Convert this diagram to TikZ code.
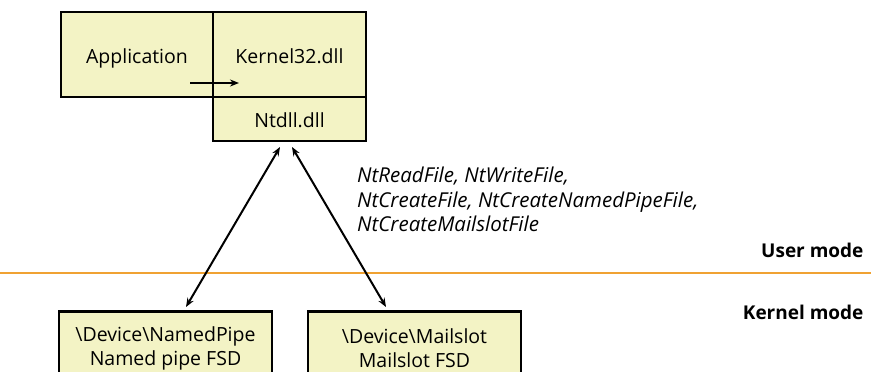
\documentclass[tikz,border=0pt]{standalone}
\usepackage{fontspec}
\setmainfont{Open Sans}
\usetikzlibrary{arrows.meta}
\definecolor{boxfill}{HTML}{F3F3C5}
\definecolor{modeline}{HTML}{F0A232}
\begin{document}
\begin{tikzpicture}[x=1pt,y=-1pt,>={Stealth[length=9pt,width=7pt]},
  box/.style={draw,line width=2.2pt,fill=boxfill,inner sep=0pt,font=\fontsize{19.5}{24}\selectfont,align=center},
  link/.style={<->,line width=2pt}]
\useasboundingbox (0,0) rectangle (871,372);
\clip (0,0) rectangle (871,372);
% user mode side
\node[box,minimum width=152pt,minimum height=85pt,text height=22pt,text depth=4pt] (app) at (137,54.5) {Application};
\node[box,minimum width=153pt,minimum height=85pt,text height=22pt,text depth=4pt] (kernel) at (289.5,54.5) {Kernel32.dll};
\node[box,minimum width=153pt,minimum height=44pt,text height=20pt,text depth=4pt] (ntdll) at (289.5,119) {Ntdll.dll};
\coordinate (callfrom) at (190,83);
\coordinate (callto) at (239,83);
\draw[->,line width=2pt] (callfrom)--(callto);
% boundary between the modes
\coordinate (lineleft) at (0,273);
\coordinate (lineright) at (871,273);
\draw[modeline,line width=2.4pt] (lineleft)--(lineright);
\node[anchor=east,font=\fontsize{19}{22}\selectfont\bfseries] (user) at (867,250) {User mode};
\node[anchor=east,font=\fontsize{19}{22}\selectfont\bfseries] (kmode) at (867,312) {Kernel mode};
\node[anchor=north west,align=left,inner sep=0pt,font=\fontsize{20.5}{24.5}\selectfont\itshape] (calls) at (357,167)
  {NtReadFile, NtWriteFile,\\NtCreateFile, NtCreateNamedPipeFile,\\NtCreateMailslotFile};
% kernel mode side
\node[box,minimum width=213pt,minimum height=73pt] (npfs) at (165.5,348) {\textbackslash Device\textbackslash NamedPipe\\Named pipe FSD};
\node[box,minimum width=213pt,minimum height=73pt] (msfs) at (414.5,348) {\textbackslash Device\textbackslash Mailslot\\Mailslot FSD};
\coordinate (npin) at (186,307);
\coordinate (msin) at (386,307);
\coordinate (ntleft) at (280,147);
\coordinate (ntright) at (292,147);
\draw[link] (npin)--(ntleft);
\draw[link] (ntright)--(msin);
\end{tikzpicture}
\end{document}
